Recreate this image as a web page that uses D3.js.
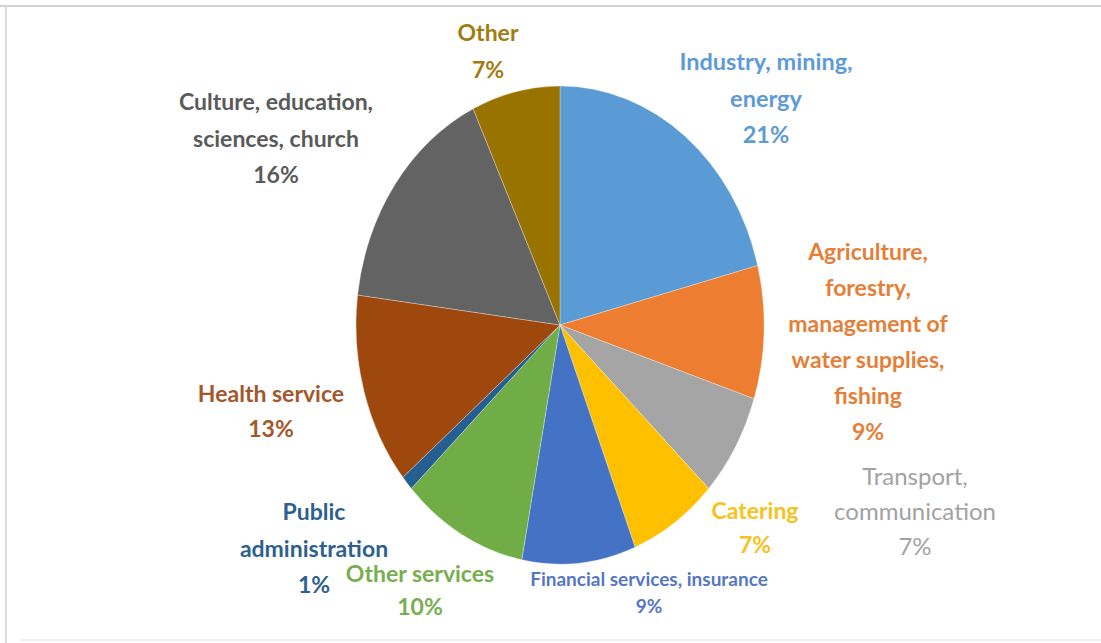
<!DOCTYPE html>
<html>
<head>
<meta charset="utf-8">
<script src="https://cdn.jsdelivr.net/npm/d3@7"></script>
<style>
  html, body { margin: 0; padding: 0; background: #fff; }
  svg { display: block; }
  text { font-family: Lato, "Open Sans", sans-serif; }
</style>
</head>
<body>
<svg id="chart" width="1101" height="643"></svg>
<script>
// Employment share by sector (%), clockwise from 12 o'clock
const categories = [
  "Industry, mining, energy",
  "Agriculture, forestry, management of water supplies, fishing",
  "Transport, communication",
  "Catering",
  "Financial services, insurance",
  "Other services",
  "Public administration",
  "Health service",
  "Culture, education, sciences, church",
  "Other"
];
const values = [21, 9, 7, 7, 9, 10, 1, 13, 16, 7];

// How each category name wraps in its label
const labelLines = [
  ["Industry, mining,", "energy"],
  ["Agriculture,", "forestry,", "management of", "water supplies,", "fishing"],
  ["Transport,", "communication"],
  ["Catering"],
  ["Financial services, insurance"],
  ["Other services"],
  ["Public", "administration"],
  ["Health service"],
  ["Culture, education,", "sciences, church"],
  ["Other"]
];

// Slice fills and label text colours
const sliceColors = ["#5b9bd5", "#ed7d31", "#a5a5a5", "#ffc000", "#4472c4",
                     "#70ad47", "#255e91", "#9e480e", "#636363", "#997300"];
const labelColors = ["#5e9bd6", "#e57f38", "#a2a2a2", "#f7c21c", "#5577c2",
                     "#78ae50", "#2d5f90", "#a4572a", "#5a5a5a", "#a07d10"];

// Label layout: centre x, first baseline y, line step, font size, weight
const labelLayout = [
  [766, 70, 36.5, 23.5, 700],
  [868, 260, 36, 23, 700],
  [915, 485, 35, 24, 400],
  [755, 519, 34, 23, 700],
  [649, 586, 27, 19, 700],
  [420, 582, 33, 23, 700],
  [314, 520, 36.5, 23, 700],
  [271, 402, 35, 23, 700],
  [276, 110, 36.5, 23, 700],
  [488, 41, 37, 23, 700]
];

const svg = d3.select("#chart");
const W = 1101, H = 643;

// frame
svg.append("rect").attr("x", 0).attr("y", 0).attr("width", W).attr("height", H).attr("fill", "#fff");
svg.append("line").attr("x1", 0).attr("x2", W).attr("y1", 6).attr("y2", 6)
  .attr("stroke", "#d2d2d2").attr("stroke-width", 2);
svg.append("line").attr("x1", 6).attr("x2", 6).attr("y1", 6).attr("y2", H)
  .attr("stroke", "#dcdcdc").attr("stroke-width", 2);
svg.append("line").attr("x1", 20).attr("x2", W).attr("y1", 640).attr("y2", 640)
  .attr("stroke", "#ededed").attr("stroke-width", 1.5);

// pie, drawn as a circle and stretched vertically into an ellipse
const cx = 560, cy = 325, rx = 204, ry = 239;
const pie = d3.pie().sort(null).value(d => d)(values);
const arc = d3.arc().innerRadius(0).outerRadius(rx);

const pieG = svg.append("g")
  .attr("transform", `translate(${cx},${cy}) scale(1,${ry / rx})`);

pieG.selectAll("path")
  .data(pie)
  .join("path")
  .attr("d", arc)
  .attr("fill", (d, i) => sliceColors[i])
  .attr("stroke", "#ffffff")
  .attr("stroke-opacity", 0.5)
  .attr("stroke-width", 0.6)
  .attr("vector-effect", "non-scaling-stroke");

// data labels: category name lines followed by the percentage
const fmt = d => d3.format("d")(d) + "%";
const labels = svg.append("g");
categories.forEach((c, i) => {
  const [x, y0, step, fs, fw] = labelLayout[i];
  const lines = labelLines[i].concat([fmt(values[i])]);
  const t = labels.append("text")
    .attr("text-anchor", "middle")
    .attr("font-size", fs)
    .attr("font-weight", fw)
    .attr("fill", labelColors[i]);
  lines.forEach((ln, k) => {
    t.append("tspan").attr("x", x).attr("y", y0 + k * step).text(ln);
  });
});
</script>
</body>
</html>
